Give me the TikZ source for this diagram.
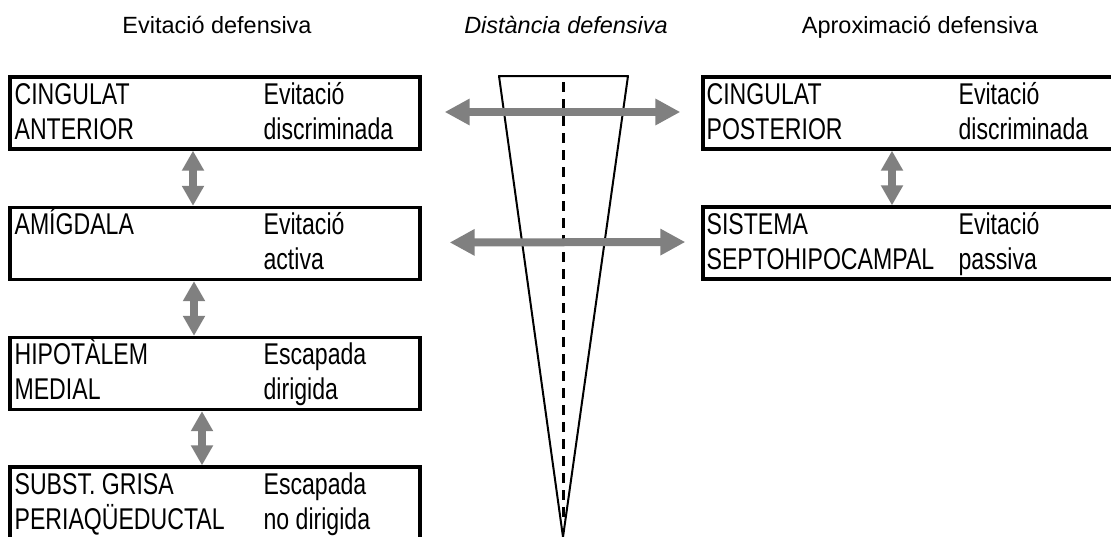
\documentclass[tikz,border=0pt]{standalone}
\usepackage{fontspec}
\setmainfont{Liberation Sans}
\newfontfamily\boxfont[FakeStretch=0.77]{Liberation Sans}
\definecolor{arrowgray}{RGB}{128, 128, 128}
\usetikzlibrary{arrows.meta, positioning, calc}

\begin{document}
\begin{tikzpicture}[x=0.75pt, y=-0.75pt,
  area/.style={draw, line width=2.5pt, minimum width=307.5pt, minimum height=54pt, inner sep=0pt},
  txt/.style={anchor=base west, inner sep=0pt, font=\boxfont\fontsize{22.5pt}{26pt}\selectfont},
  head/.style={anchor=base, inner sep=0pt, font=\fontsize{17.6pt}{21pt}\selectfont},
  vlink/.style={draw=arrowgray, line width=6pt, {Triangle[width=15.75pt, length=15pt]}-{Triangle[width=15.75pt, length=15pt]}},
  hlink/.style={draw=arrowgray, line width=6pt, {Triangle[width=18.75pt, length=18.75pt]}-{Triangle[width=18.75pt, length=18.75pt]}}]
  \useasboundingbox (0,0) rectangle (1111,536);

  % Column titles
  \node[head] (tleft) at (217, 33) {Evitació defensiva};
  \node[head] (tmid) at (566, 33) {\itshape Distància defensiva};
  \node[head] (tright) at (920, 33) {Aproximació defensiva};

  % Distance wedge
  \draw[line width=1.5pt, line join=round] (499,76) -- (628,76) -- (563,537) -- cycle;
  \draw[line width=2.25pt, dash pattern=on 7.5pt off 5.25pt] (563,82) -- (563,518);

  % Left column boxes
  \node[area] (cingant) at (215, 113) {};
  \node[area] (amig) at (215, 243.5) {};
  \node[area] (hipo) at (215, 373.5) {};
  \node[area] (pag) at (215, 503) {};

  \node[txt] at ($(cingant.north west)+(6,29)$) {CINGULAT};
  \node[txt] at ($(cingant.north west)+(6,64)$) {ANTERIOR};
  \node[txt] at ($(cingant.north west)+(255,29)$) {Evitació};
  \node[txt] at ($(cingant.north west)+(255,64)$) {discriminada};

  \node[txt] at ($(amig.north west)+(6,29)$) {AMÍGDALA};
  \node[txt] at ($(amig.north west)+(255,29)$) {Evitació};
  \node[txt] at ($(amig.north west)+(255,64)$) {activa};

  \node[txt] at ($(hipo.north west)+(6,29)$) {HIPOTÀLEM};
  \node[txt] at ($(hipo.north west)+(6,64)$) {MEDIAL};
  \node[txt] at ($(hipo.north west)+(255,29)$) {Escapada};
  \node[txt] at ($(hipo.north west)+(255,64)$) {dirigida};

  \node[txt] at ($(pag.north west)+(6,29)$) {SUBST. GRISA};
  \node[txt] at ($(pag.north west)+(6,64)$) {PERIAQÜEDUCTAL};
  \node[txt] at ($(pag.north west)+(255,29)$) {Escapada};
  \node[txt] at ($(pag.north west)+(255,64)$) {no dirigida};

  % Right column boxes
  \node[area] (cingpost) at (908, 113) {};
  \node[area] (septo) at (908, 243) {};

  \node[txt] at ($(cingpost.north west)+(5,29)$) {CINGULAT};
  \node[txt] at ($(cingpost.north west)+(5,64)$) {POSTERIOR};
  \node[txt] at ($(cingpost.north west)+(257,29)$) {Evitació};
  \node[txt] at ($(cingpost.north west)+(257,64)$) {discriminada};

  \node[txt] at ($(septo.north west)+(5,29)$) {SISTEMA};
  \node[txt] at ($(septo.north west)+(5,64)$) {SEPTOHIPOCAMPAL};
  \node[txt] at ($(septo.north west)+(257,29)$) {Evitació};
  \node[txt] at ($(septo.north west)+(257,64)$) {passiva};

  % Vertical links
  \draw[vlink] ($(cingant.south)+(-22,0)$) -- ($(amig.north)+(-22,0)$);
  \draw[vlink] ($(amig.south)+(-21,0)$) -- ($(hipo.north)+(-21,0)$);
  \draw[vlink] ($(hipo.south)+(-13,0)$) -- ($(pag.north)+(-13,0)$);
  \draw[vlink] ($(cingpost.south)+(-16,0)$) -- ($(septo.north)+(-16,0)$);

  % Horizontal links across the wedge
  \draw[hlink, shorten <=17.25pt, shorten >=15.75pt] ($(cingant.east)+(0,-1)$) -- ($(cingpost.west)+(0,-1)$);
  \draw[hlink, shorten <=21pt, shorten >=12pt] ($(amig.east)+(0,-1)$) -- ($(septo.west)+(0,-1)$);
\end{tikzpicture}
\end{document}
